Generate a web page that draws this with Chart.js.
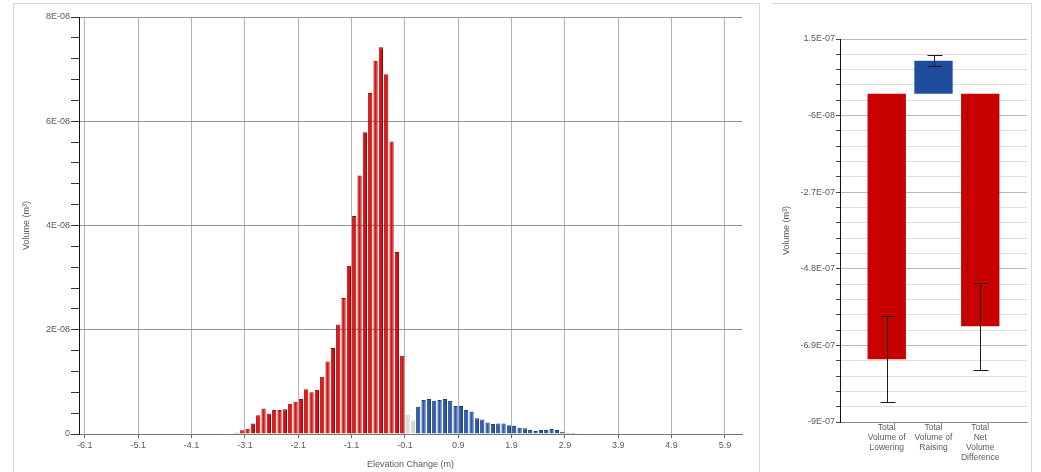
<!DOCTYPE html>
<html>
<head>
<meta charset="utf-8">
<script src="https://cdn.jsdelivr.net/npm/chart.js@4.4.1/dist/chart.umd.min.js"></script>
<style>
  html, body { margin: 0; padding: 0; background: #fff; width: 1041px; height: 472px; overflow: hidden; }
  .frame { position: absolute; border: 1px solid #d6d6d6; }
  canvas { position: absolute; top: 0; }
  #hist { left: 0; }
  #totals { left: 760px; }
</style>
</head>
<body>
<div class="frame" style="left:13px;top:3px;width:745px;height:480px;"></div>
<div class="frame" style="left:772px;top:3px;width:258px;height:480px;border-left-color:transparent;"></div>
<canvas id="hist" width="760" height="472"></canvas>
<canvas id="totals" width="281" height="472"></canvas>
<script>
// ---- Elevation change histogram (bin centres in m, volumes in m³) ----
const loweringBins = [-3.55, -3.45, -3.35, -3.25, -3.15, -3.05, -2.95, -2.85, -2.75, -2.65, -2.55, -2.45,
  -2.35, -2.25, -2.15, -2.05, -1.95, -1.85, -1.75, -1.65, -1.55, -1.45, -1.35, -1.25, -1.15, -1.05,
  -0.95, -0.85, -0.75, -0.65, -0.55, -0.45, -0.35, -0.25, -0.15];
const loweringVolumes = [0.015e-8, 0.0e-8, 0.01e-8, 0.025e-8, 0.07e-8, 0.10e-8, 0.20e-8, 0.36e-8, 0.49e-8,
  0.39e-8, 0.46e-8, 0.46e-8, 0.475e-8, 0.58e-8, 0.62e-8, 0.67e-8, 0.86e-8, 0.80e-8, 0.85e-8, 1.10e-8,
  1.39e-8, 1.65e-8, 2.10e-8, 2.61e-8, 3.23e-8, 4.18e-8, 4.96e-8, 5.79e-8, 6.54e-8, 7.16e-8, 7.42e-8,
  6.90e-8, 5.61e-8, 3.49e-8, 1.50e-8];

const neutralBins = [-0.05, 0.05];
const neutralVolumes = [0.37e-8, 0.26e-8];

const raisingBins = [0.15, 0.25, 0.35, 0.45, 0.55, 0.65, 0.75, 0.85, 0.95, 1.05, 1.15, 1.25, 1.35, 1.45,
  1.55, 1.65, 1.75, 1.85, 1.95, 2.05, 2.15, 2.25, 2.35, 2.45, 2.55, 2.65, 2.75, 2.85, 2.95, 3.05, 3.15,
  3.25, 3.35];
const raisingVolumes = [0.525e-8, 0.654e-8, 0.673e-8, 0.64e-8, 0.654e-8, 0.673e-8, 0.64e-8, 0.538e-8,
  0.538e-8, 0.46e-8, 0.43e-8, 0.30e-8, 0.28e-8, 0.22e-8, 0.19e-8, 0.20e-8, 0.20e-8, 0.17e-8, 0.155e-8,
  0.12e-8, 0.11e-8, 0.077e-8, 0.058e-8, 0.077e-8, 0.077e-8, 0.096e-8, 0.077e-8, 0.044e-8, 0.025e-8,
  0.02e-8, 0.015e-8, 0.015e-8, 0.01e-8];

const histXTickValues = [-6.1, -5.1, -4.1, -3.1, -2.1, -1.1, -0.1, 0.9, 1.9, 2.9, 3.9, 4.9, 5.9];
const histXTickLabels = ['-6.1', '-5.1', '-4.1', '-3.1', '-2.1', '-1.1', '-0.1', '0.9', '1.9', '2.9', '3.9', '4.9', '5.9'];
const histYTickValues = [0, 2e-8, 4e-8, 6e-8, 8e-8];
const histYTickLabels = ['0', '2E-08', '4E-08', '6E-08', '8E-08'];

// ---- Volume totals with uncertainty ----
const totalsCategories = [
  ['Total', 'Volume of', 'Lowering'],
  ['Total', 'Volume of', 'Raising'],
  ['Total', 'Net', 'Volume', 'Difference']
];
const totalsValues = [-7.28e-7, 0.905e-7, -6.375e-7];
const totalsErrors = [1.18e-7, 0.145e-7, 1.19e-7];
const totalsColors = ['#c80000', '#1f4d9d', '#c80000'];
const totalsYTickValues = [1.5e-7, -0.6e-7, -2.7e-7, -4.8e-7, -6.9e-7, -9e-7];
const totalsYTickLabels = ['1.5E-07', '-6E-08', '-2.7E-07', '-4.8E-07', '-6.9E-07', '-9E-07'];

const FONT_FAMILY = "'Liberation Sans Narrow', 'Arial Narrow', 'Liberation Sans', Arial, sans-serif";
const TEXT_COLOR = '#5a5a5a';

// Minor ticks: five subdivisions between each pair of labelled ticks
function withMinorTicks(majors, parts) {
  const sorted = majors.slice().sort((a, b) => a - b);
  const out = [];
  for (let i = 0; i < sorted.length - 1; i++) {
    const step = (sorted[i + 1] - sorted[i]) / parts;
    for (let k = 0; k < parts; k++) out.push(sorted[i] + step * k);
  }
  out.push(sorted[sorted.length - 1]);
  return out;
}
function majorIndex(values, v) {
  const span = Math.abs(values[values.length - 1] - values[0]);
  return values.findIndex(m => Math.abs(m - v) < span * 1e-6);
}

function points(xs, ys) { return xs.map((x, i) => ({ x: x, y: ys[i] })); }

new Chart(document.getElementById('hist'), {
  type: 'bar',
  data: {
    datasets: [
      { label: 'Lowering', data: points(loweringBins, loweringVolumes),
        backgroundColor: '#dd1010', borderColor: '#a00000', borderWidth: 1 },
      { label: 'Below detection', data: points(neutralBins, neutralVolumes),
        backgroundColor: '#d9d9d9', borderColor: '#c8c8c8', borderWidth: 1 },
      { label: 'Raising', data: points(raisingBins, raisingVolumes),
        backgroundColor: '#2a58a8', borderColor: '#1b3c7c', borderWidth: 1 }
    ]
  },
  options: {
    responsive: false,
    animation: false,
    datasets: { bar: { grouped: false, barPercentage: 0.8, categoryPercentage: 1 } },
    plugins: { legend: { display: false }, tooltip: { enabled: false } },
    layout: { padding: { left: 14, top: 17, right: 18, bottom: 0 } },
    scales: {
      x: {
        type: 'linear', min: -6.21, max: 6.22, offset: false,
        afterBuildTicks: s => { s.ticks = histXTickValues.map(v => ({ value: v })); },
        afterFit: s => { s.height = 38; },
        ticks: {
          autoSkip: false, maxRotation: 0, padding: 2, color: TEXT_COLOR,
          font: { family: FONT_FAMILY, size: 9 },
          callback: (v, i) => histXTickLabels[i]
        },
        grid: { offset: false, color: '#b4b4b4', tickColor: '#666', tickLength: 4 },
        border: { color: '#777' },
        title: { display: true, text: 'Elevation Change (m)', color: TEXT_COLOR,
                 font: { family: FONT_FAMILY, size: 9 }, padding: { top: 0, bottom: 2 } }
      },
      y: {
        min: 0, max: 8e-8,
        afterBuildTicks: s => { s.ticks = withMinorTicks(histYTickValues, 5).map(v => ({ value: v })); },
        afterFit: s => { s.width = 65; },
        ticks: {
          autoSkip: false, padding: 1, color: TEXT_COLOR,
          font: { family: FONT_FAMILY, size: 9 },
          callback: v => { const i = majorIndex(histYTickValues, v); return i >= 0 ? histYTickLabels[i] : ''; }
        },
        grid: {
          color: c => (c.tick && majorIndex(histYTickValues, c.tick.value) >= 0) ? '#8a93b2' : 'rgba(0,0,0,0)',
          tickColor: '#333', tickLength: 8
        },
        border: { color: '#111' },
        title: { display: true, text: 'Volume (m³)', color: TEXT_COLOR,
                 font: { family: FONT_FAMILY, size: 9 }, padding: { top: 7, bottom: 0 } }
      }
    }
  }
});

// Error whiskers drawn from the same values as the bars
const errorBars = {
  id: 'errorBars',
  afterDatasetsDraw(chart) {
    const meta = chart.getDatasetMeta(0);
    const y = chart.scales.y;
    const ctx = chart.ctx;
    ctx.save();
    ctx.strokeStyle = '#1a1a1a';
    ctx.lineWidth = 1;
    meta.data.forEach((bar, i) => {
      const hi = Math.round(y.getPixelForValue(totalsValues[i] + totalsErrors[i])) + 0.5;
      const lo = Math.round(y.getPixelForValue(totalsValues[i] - totalsErrors[i])) + 0.5;
      const x = Math.round(bar.x) + 0.5;
      ctx.beginPath();
      ctx.moveTo(x, hi); ctx.lineTo(x, lo);
      ctx.moveTo(x - 7, hi); ctx.lineTo(x + 8, hi);
      ctx.moveTo(x - 7, lo); ctx.lineTo(x + 8, lo);
      ctx.stroke();
    });
    ctx.restore();
  }
};

new Chart(document.getElementById('totals'), {
  type: 'bar',
  data: {
    datasets: [{
      label: 'Volume',
      data: totalsValues.map((v, i) => ({ x: i + 1, y: v })),
      backgroundColor: totalsColors,
      borderWidth: 0
    }]
  },
  options: {
    responsive: false,
    animation: false,
    datasets: { bar: { barPercentage: 0.82, categoryPercentage: 1 } },
    plugins: { legend: { display: false }, tooltip: { enabled: false } },
    layout: { padding: { left: 12, top: 39, right: 14, bottom: 0 } },
    scales: {
      x: {
        type: 'linear', min: 0, max: totalsCategories.length + 1, offset: false,
        afterBuildTicks: s => { s.ticks = totalsCategories.map((c, i) => ({ value: i + 1 })); },
        afterFit: s => { s.height = 50; },
        ticks: {
          autoSkip: false, maxRotation: 0, padding: 1, color: TEXT_COLOR,
          font: { family: FONT_FAMILY, size: 8.5, lineHeight: 1.15 },
          callback: (v, i) => totalsCategories[i]
        },
        grid: { display: false, drawTicks: false, offset: false },
        border: { display: true, color: '#888' }
      },
      y: {
        min: -9e-7, max: 1.5e-7,
        afterBuildTicks: s => { s.ticks = withMinorTicks(totalsYTickValues, 5).map(v => ({ value: v })); },
        afterFit: s => { s.width = 68; },
        ticks: {
          autoSkip: false, padding: 1, color: TEXT_COLOR,
          font: { family: FONT_FAMILY, size: 9 },
          callback: v => { const i = majorIndex(totalsYTickValues, v); return i >= 0 ? totalsYTickLabels[i] : ''; }
        },
        grid: {
          color: c => (c.tick && majorIndex(totalsYTickValues, c.tick.value) >= 0) ? '#b8b8b8' : '#dedede',
          tickColor: '#444', tickLength: 4
        },
        border: { color: '#111' },
        title: { display: true, text: 'Volume (m³)', color: TEXT_COLOR,
                 font: { family: FONT_FAMILY, size: 9 }, padding: { top: 9, bottom: 0 } }
      }
    }
  },
  plugins: [errorBars]
});
</script>
</body>
</html>
